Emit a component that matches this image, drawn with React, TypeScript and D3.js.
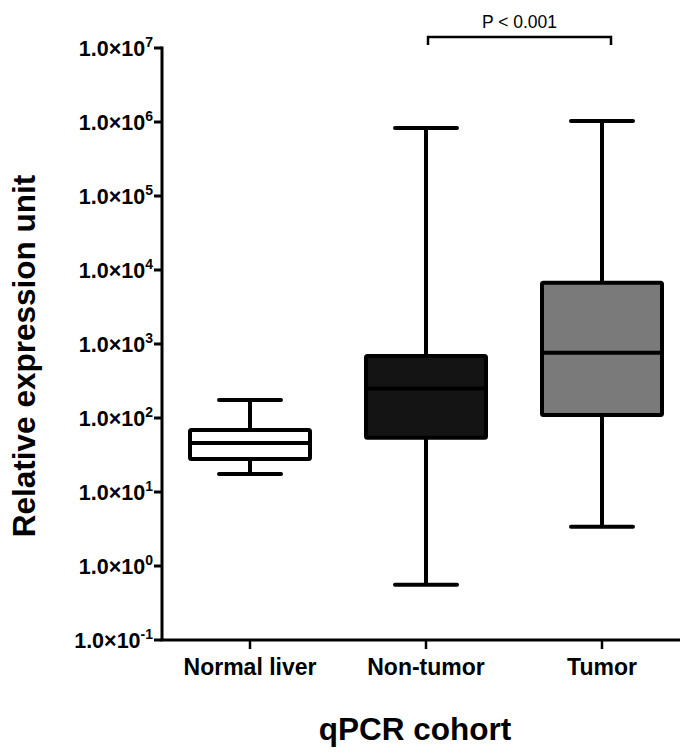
import React from "react";
import * as d3 from "d3";

const categories = ["Normal liver", "Non-tumor", "Tumor"];
const whiskerLow = [17.5, 0.56, 3.4];
const q1 = [28, 54, 110];
const median = [46, 250, 760];
const q3 = [69, 690, 6700];
const whiskerHigh = [175, 830000, 1030000];
const tickExponents = [-1, 0, 1, 2, 3, 4, 5, 6, 7];
const pLabel = "P < 0.001";
const xTitle = "qPCR cohort";
const yTitle = "Relative expression unit";

const boxFills = ["#ffffff", "#141414", "#7a7a7a"];

export default function App() {
  const width = 680;
  const height = 756;
  const left = 162;
  const bottom = 640;
  const top = 48;

  const y = d3.scaleLog().domain([0.1, 1e7]).range([bottom, top]);
  const x = d3.scaleBand().domain(categories).range([left, 690]);
  const cx = (c: string) => (x(c) as number) + x.bandwidth() / 2;

  const boxW = 120;
  const capW = 62;
  const font = "Arial, 'Liberation Sans', Helvetica, sans-serif";

  const pairX1 = cx("Non-tumor") + 2;
  const pairX2 = cx("Tumor") + 9;

  return (
    <svg
      width={width}
      height={height}
      style={{ position: "absolute", left: 0, top: 0, background: "#fff" }}
      fontFamily={font}
    >
      {/* y axis */}
      <line x1={left} x2={left} y1={top - 1.5} y2={bottom} stroke="#000" strokeWidth={3} />
      {tickExponents.map(e => (
        <g key={e} transform={`translate(0,${y(Math.pow(10, e))})`}>
          <line x1={left - 8} x2={left} stroke="#000" strokeWidth={3} />
          <text x={left - 9} dy="0.36em" textAnchor="end" fontSize={21.5} fontWeight="bold">
            1.0×10
            <tspan fontSize={14} dy="-0.62em">{e}</tspan>
          </text>
        </g>
      ))}

      {/* x axis */}
      <line x1={left - 1.5} x2={width} y1={bottom} y2={bottom} stroke="#000" strokeWidth={3} />
      {categories.map(c => (
        <g key={c} transform={`translate(${cx(c)},0)`}>
          <line y1={bottom} y2={bottom + 9} stroke="#000" strokeWidth={2.5} />
          <text y={bottom + 35} textAnchor="middle" fontSize={23} fontWeight="bold">
            {c}
          </text>
        </g>
      ))}

      {/* boxes */}
      {categories.map((c, i) => {
        const m = cx(c);
        return (
          <g key={c}>
            <line x1={m} x2={m} y1={y(whiskerHigh[i])} y2={y(whiskerLow[i])} stroke="#000" strokeWidth={4} />
            <line x1={m - capW / 2} x2={m + capW / 2} y1={y(whiskerHigh[i])} y2={y(whiskerHigh[i])} stroke="#000" strokeWidth={4} strokeLinecap="round" />
            <line x1={m - capW / 2} x2={m + capW / 2} y1={y(whiskerLow[i])} y2={y(whiskerLow[i])} stroke="#000" strokeWidth={4} strokeLinecap="round" />
            <rect
              x={m - boxW / 2}
              width={boxW}
              y={y(q3[i])}
              height={y(q1[i]) - y(q3[i])}
              fill={boxFills[i]}
              stroke="#000"
              strokeWidth={4}
              rx={1.5}
            />
            <line x1={m - boxW / 2} x2={m + boxW / 2} y1={y(median[i])} y2={y(median[i])} stroke="#000" strokeWidth={4} />
          </g>
        );
      })}

      {/* significance bracket */}
      <path
        d={`M${pairX1},45 V37 H${pairX2} V45`}
        fill="none"
        stroke="#000"
        strokeWidth={2.5}
      />
      <text x={(pairX1 + pairX2) / 2} y={28} textAnchor="middle" fontSize={17.5}>
        {pLabel}
      </text>

      {/* titles */}
      <text
        transform={`translate(35,${356}) rotate(-90)`}
        textAnchor="middle"
        fontSize={31.5}
        fontWeight="bold"
      >
        {yTitle}
      </text>
      <text x={415} y={740} textAnchor="middle" fontSize={31.5} fontWeight="bold">
        {xTitle}
      </text>
    </svg>
  );
}
